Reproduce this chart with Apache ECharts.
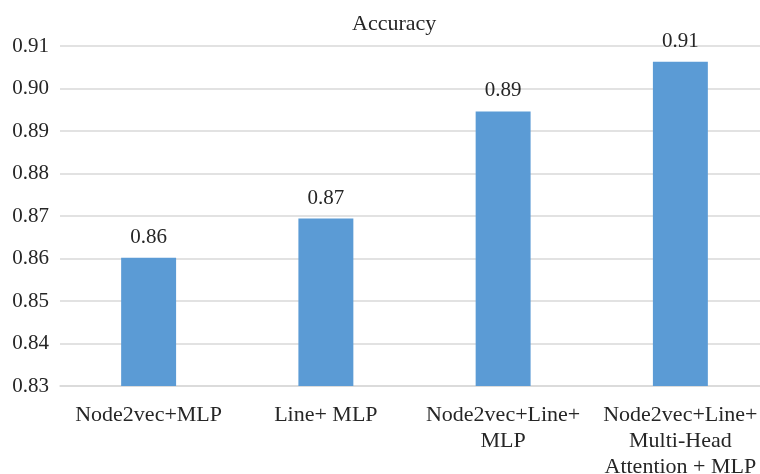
<!DOCTYPE html>
<html>
<head>
<meta charset="utf-8">
<script src="https://cdn.jsdelivr.net/npm/echarts@6/dist/echarts.min.js"></script>
<style>html,body{margin:0;padding:0;background:#fff;overflow:hidden;width:760px;height:474px;}#c{width:780px;height:474px;}</style>
</head>
<body>
<div id="c"></div>
<script>
const categories = ["Node2vec+MLP", "Line+ MLP", "Node2vec+Line+\nMLP", "Node2vec+Line+\nMulti-Head\nAttention + MLP"];
const accuracy = [0.8602, 0.8694, 0.8946, 0.9063];
const yMin = 0.83, yMax = 0.91, yStep = 0.01;

const chart = echarts.init(document.getElementById('c'));
const font = '"Liberation Serif", "Times New Roman", serif';
chart.setOption({
  animation: false,
  title: {
    text: 'Accuracy', left: 347, top: 8,
    textStyle: { fontFamily: font, fontSize: 22, fontWeight: 'normal', color: '#262626' }
  },
  grid: { left: 60, right: 11, top: 46, bottom: 88, containLabel: false, outerBoundsMode: 'none' },
  xAxis: {
    type: 'category', data: categories,
    axisLine: { lineStyle: { color: '#D9D9D9', width: 1.5 } },
    axisTick: { show: false },
    axisLabel: { fontFamily: font, fontSize: 22, color: '#262626', margin: 16, lineHeight: 26, interval: 0 }
  },
  yAxis: {
    type: 'value', min: yMin, max: yMax, interval: yStep,
    axisLine: { show: false }, axisTick: { show: false },
    splitLine: { lineStyle: { color: '#D9D9D9', width: 1.5 } },
    axisLabel: { fontFamily: font, fontSize: 21, color: '#262626', margin: 11, formatter: v => v.toFixed(2) }
  },
  series: [{
    type: 'bar', data: accuracy, barWidth: '31%',
    itemStyle: { color: '#5B9BD5' },
    label: { show: true, position: 'top', distance: 10, fontFamily: font, fontSize: 21, color: '#262626', formatter: p => p.value.toFixed(2) }
  }]
});
</script>
</body>
</html>
